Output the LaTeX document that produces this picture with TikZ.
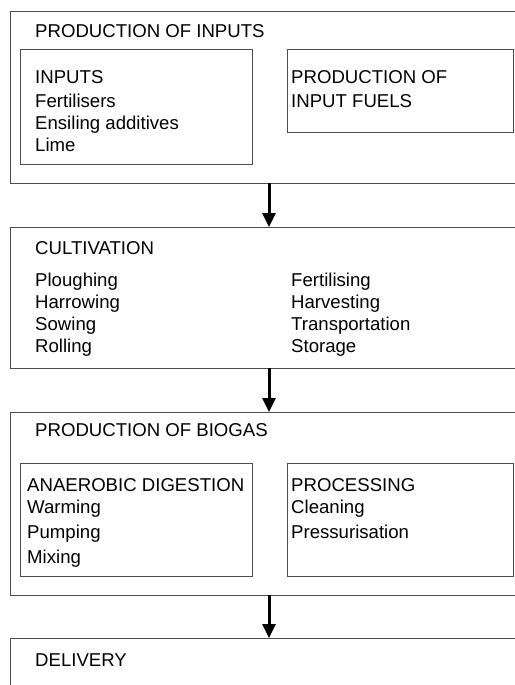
\documentclass[tikz,border=0pt]{standalone}
\usepackage{fontspec}
\setmainfont{Liberation Sans}
\usetikzlibrary{arrows.meta}
\begin{document}
\begin{tikzpicture}[x=1pt,y=-1pt,
  boxline/.style={draw=black!70,line width=1pt},
  lbl/.style={anchor=base west,inner sep=0pt,font=\fontsize{18.6}{22}\selectfont},
  flow/.style={line width=3pt,-{Triangle[width=13pt,length=14pt]}}]
\useasboundingbox (0,0) rectangle (514,685);
% box 1
\draw[boxline] (515,12) -- (10,12) -- (10,183) -- (515,183);
\draw[boxline] (20,50) rectangle (252,164);
\draw[boxline] (287,50) rectangle (513,132);
\node[lbl] (t1) at (35,37.5) {PRODUCTION OF INPUTS};
\node[lbl] (i1) at (35,83.5) {INPUTS};
\node[lbl] (i2) at (35,107.5) {Fertilisers};
\node[lbl] (i3) at (35,129.5) {Ensiling additives};
\node[lbl] (i4) at (35,151.5) {Lime};
\node[lbl] (f1) at (291,83.5) {PRODUCTION OF};
\node[lbl] (f2) at (291,107.5) {INPUT FUELS};
% box 2
\draw[boxline] (515,227) -- (10,227) -- (10,368) -- (515,368);
\node[lbl] (t2) at (35,254.3) {CULTIVATION};
\node[lbl] (c1) at (35,286.7) {Ploughing};
\node[lbl] (c2) at (35,308.5) {Harrowing};
\node[lbl] (c3) at (35,330.5) {Sowing};
\node[lbl] (c4) at (35,352.5) {Rolling};
\node[lbl] (c5) at (291,286.7) {Fertilising};
\node[lbl] (c6) at (291,308.5) {Harvesting};
\node[lbl] (c7) at (291,330.5) {Transportation};
\node[lbl] (c8) at (291,352.5) {Storage};
% box 3
\draw[boxline] (515,412) -- (10,412) -- (10,595) -- (515,595);
\draw[boxline] (20,463) rectangle (252,576);
\draw[boxline] (287,463) rectangle (513,576);
\node[lbl] (t3) at (35,436.7) {PRODUCTION OF BIOGAS};
\node[lbl] (a1) at (27,491) {ANAEROBIC DIGESTION};
\node[lbl] (a2) at (27,513.3) {Warming};
\node[lbl] (a3) at (27,538.3) {Pumping};
\node[lbl] (a4) at (27,563.3) {Mixing};
\node[lbl] (p1) at (291,491) {PROCESSING};
\node[lbl] (p2) at (291,513.3) {Cleaning};
\node[lbl] (p3) at (291,538.3) {Pressurisation};
% box 4
\draw[boxline] (515,638) -- (10,638) -- (10,686);
\node[lbl] (t4) at (35,666) {DELIVERY};
% arrows
\coordinate (b1) at (269,183);
\coordinate (u2) at (269,227);
\coordinate (b2) at (269,368);
\coordinate (u3) at (269,412);
\coordinate (b3) at (269,595);
\coordinate (u4) at (269,638);
\draw[flow] (b1) -- (u2);
\draw[flow] (b2) -- (u3);
\draw[flow] (b3) -- (u4);
\end{tikzpicture}
\end{document}
